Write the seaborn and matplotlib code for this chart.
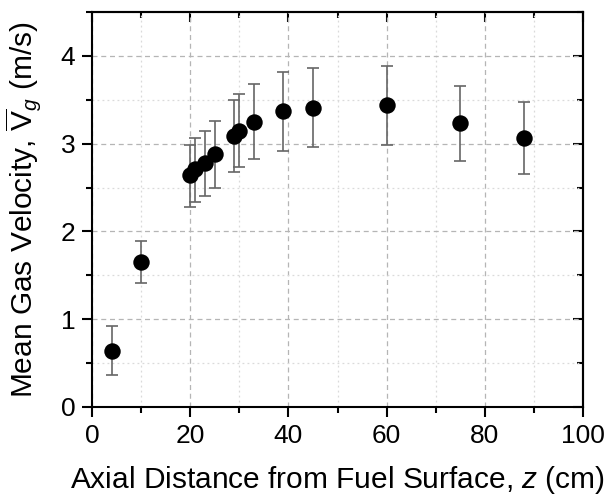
import numpy as np
import pandas as pd
import matplotlib
matplotlib.use("Agg")
import matplotlib.pyplot as plt
import seaborn as sns
from matplotlib.ticker import MultipleLocator, NullFormatter

# Data
z_cm = [4, 10, 20, 21, 23, 25, 29, 30, 33, 39, 45, 60, 75, 88]
v_mean = [0.64, 1.65, 2.64, 2.71, 2.78, 2.88, 3.09, 3.15, 3.25, 3.37, 3.41, 3.44, 3.23, 3.07]
v_low = [0.36, 1.41, 2.28, 2.34, 2.40, 2.50, 2.68, 2.73, 2.82, 2.92, 2.96, 2.99, 2.80, 2.66]
v_high = [0.92, 1.89, 2.99, 3.06, 3.14, 3.26, 3.50, 3.57, 3.68, 3.82, 3.86, 3.89, 3.66, 3.48]

x_ticks = [0, 20, 40, 60, 80, 100]
y_ticks = [0, 1, 2, 3, 4]

df = pd.DataFrame({"z": z_cm, "v": v_mean, "lo": v_low, "hi": v_high})

sns.set_style("white")
plt.rcParams["font.family"] = ["Liberation Sans", "DejaVu Sans"]
plt.rcParams["mathtext.fontset"] = "custom"
plt.rcParams["mathtext.rm"] = "Liberation Sans"
plt.rcParams["mathtext.it"] = "Liberation Sans:italic"
plt.rcParams["text.color"] = "black"
plt.rcParams["axes.labelcolor"] = "black"
plt.rcParams["xtick.color"] = "black"
plt.rcParams["ytick.color"] = "black"

fig = plt.figure(figsize=(6.14, 5.0), dpi=100)
ax = fig.add_axes([92 / 614, 1 - 407 / 500, (583 - 92) / 614, (407 - 12) / 500])

yerr = np.vstack([df["v"] - df["lo"], df["hi"] - df["v"]])
ax.errorbar(df["z"], df["v"], yerr=yerr, fmt="none", ecolor="#666666",
            elinewidth=1.2, capsize=4.3, capthick=1.2, zorder=2)
sns.scatterplot(data=df, x="z", y="v", ax=ax, color="black", s=140,
                edgecolor="black", linewidth=0, zorder=3, legend=False)

ax.set_xlim(0, 100)
ax.set_ylim(0, 4.5)
ax.set_xticks(x_ticks)
ax.set_yticks(y_ticks)
ax.xaxis.set_minor_locator(MultipleLocator(10))
ax.yaxis.set_minor_locator(MultipleLocator(0.5))

ax.grid(which="major", color="#b5b5b5", linestyle=(0, (4, 3)), linewidth=0.9)
ax.grid(which="minor", color="#dadada", linestyle=(0, (1.5, 2.5)), linewidth=0.9)
ax.set_axisbelow(True)

for s in ax.spines.values():
    s.set_linewidth(1.5)
    s.set_color("black")

ax.tick_params(which="both", bottom=True, left=True, top=False, right=False)
ax.tick_params(which="major", direction="out", length=7, width=1.5,
               labelsize=19, colors="black", pad=5)
ax.tick_params(which="minor", direction="out", length=4, width=1.5)

ax.set_xlabel("Axial Distance from Fuel Surface, $\\mathit{z}$ (cm)", fontsize=21.5,
              labelpad=12, color="black")
ax.set_ylabel("Mean Gas Velocity, $\\overline{\\mathrm{V}}_g$ (m/s)", fontsize=21.5,
              labelpad=13, color="black")

# mirrored inward ticks on top and right
top = ax.secondary_xaxis("top")
top.set_xticks(x_ticks)
top.xaxis.set_minor_locator(MultipleLocator(10))
top.tick_params(which="both", top=True, bottom=False)
top.tick_params(which="major", direction="in", length=7, width=1.5, labeltop=False)
top.tick_params(which="minor", direction="in", length=4, width=1.5)
top.xaxis.set_major_formatter(NullFormatter())
top.spines["top"].set_linewidth(1.5)

right = ax.secondary_yaxis("right")
right.set_yticks(y_ticks)
right.yaxis.set_minor_locator(MultipleLocator(0.5))
right.tick_params(which="both", right=True, left=False)
right.tick_params(which="major", direction="in", length=7, width=1.5, labelright=False)
right.tick_params(which="minor", direction="in", length=4, width=1.5)
right.yaxis.set_major_formatter(NullFormatter())
right.spines["right"].set_linewidth(1.5)

fig.savefig("out.png", dpi=100)
